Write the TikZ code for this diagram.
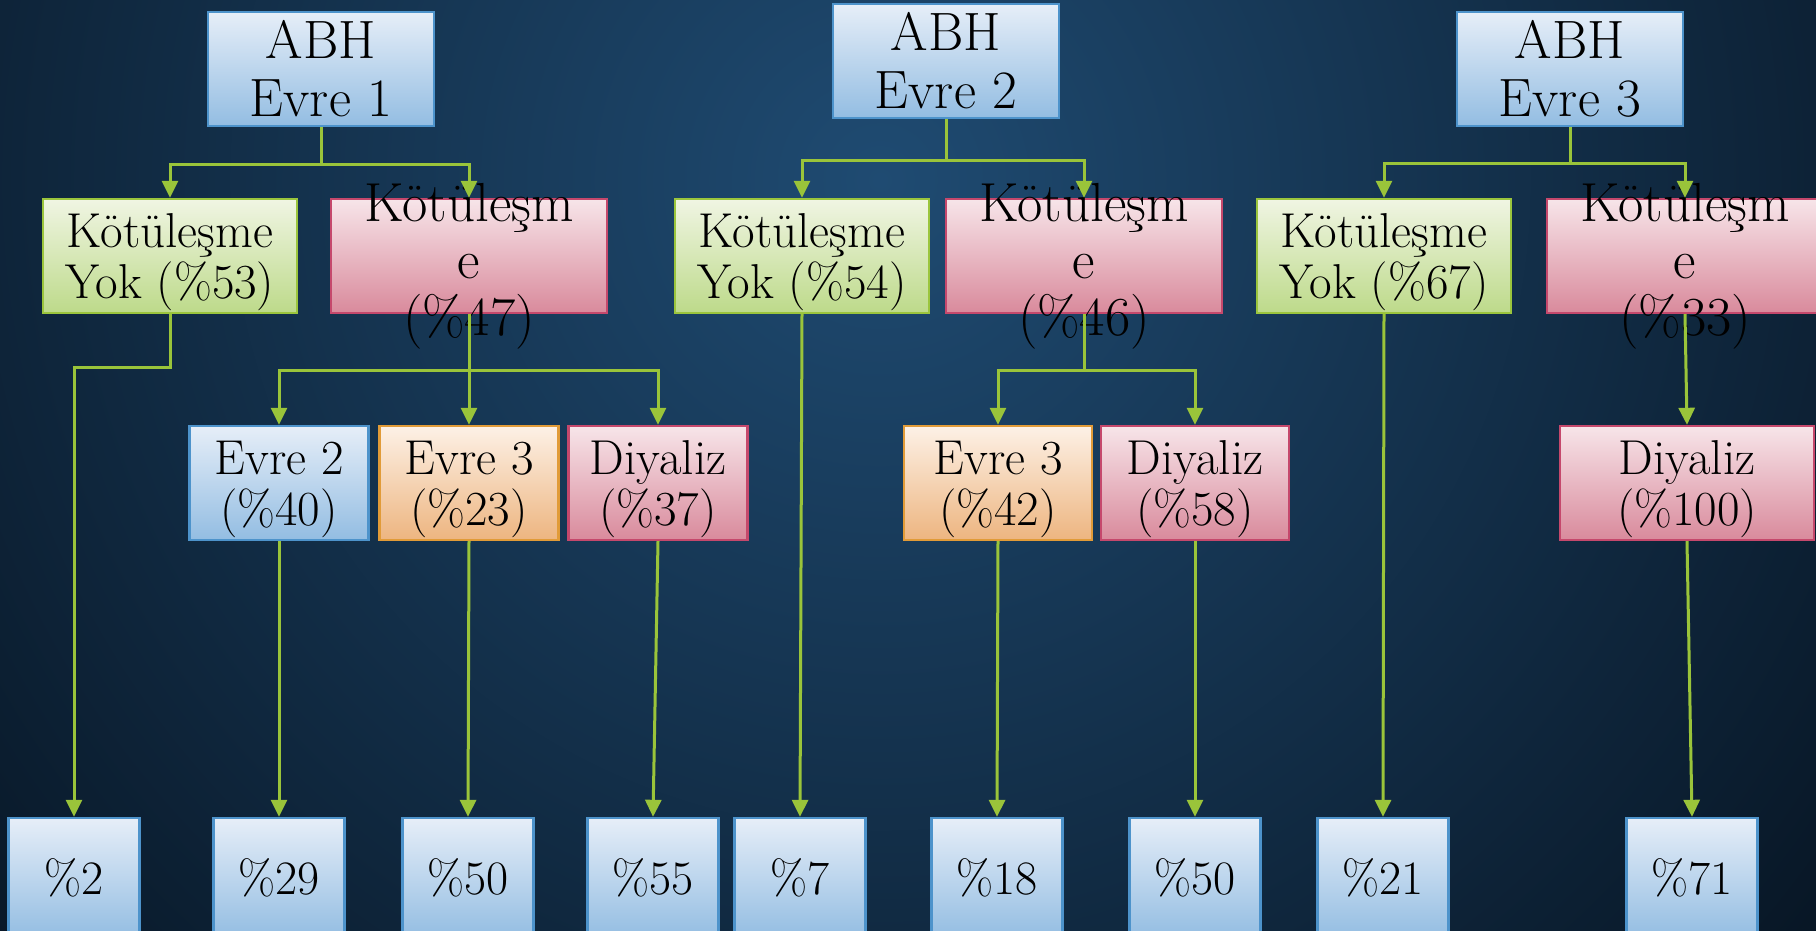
\documentclass[tikz,border=0pt]{standalone}
\usepackage{fontspec}
\usetikzlibrary{arrows.meta}

\definecolor{bgdark}{HTML}{06121F}
\definecolor{bglight}{HTML}{1F4B72}
\definecolor{blueline}{HTML}{4D93CB}
\definecolor{bluetop}{HTML}{E6EEF8}
\definecolor{bluebot}{HTML}{93BDE2}
\definecolor{greenline}{HTML}{9BC53D}
\definecolor{greentop}{HTML}{F0F5E3}
\definecolor{greenbot}{HTML}{BDDA8A}
\definecolor{pinkline}{HTML}{C5486C}
\definecolor{pinktop}{HTML}{F7E5E9}
\definecolor{pinkbot}{HTML}{D98A9C}
\definecolor{orangeline}{HTML}{E19B38}
\definecolor{orangetop}{HTML}{FDF1E6}
\definecolor{orangebot}{HTML}{EDB580}
\definecolor{linkgreen}{HTML}{9AC43A}

\begin{document}
\begin{tikzpicture}[x=0.5pt, y=-0.5pt,
    box/.style={draw, line width=1.2pt, inner sep=0pt, align=center, minimum height=57pt},
    bluebox/.style={box, draw=blueline, top color=bluetop, bottom color=bluebot},
    greenbox/.style={box, draw=greenline, top color=greentop, bottom color=greenbot},
    pinkbox/.style={box, draw=pinkline, top color=pinktop, bottom color=pinkbot},
    orangebox/.style={box, draw=orangeline, top color=orangetop, bottom color=orangebot},
    toptxt/.style={font=\fontsize{27}{29}\selectfont},
    midtxt/.style={font=\fontsize{24.5}{25.5}\selectfont, text depth=0pt},
    lowtxt/.style={font=\fontsize{24}{26}\selectfont},
    spill/.style={align=center, inner sep=0pt, font=\fontsize{27.5}{28.5}\selectfont},
    link/.style={draw=linkgreen, line width=1.5pt, -{Triangle[length=8.5pt,width=8pt]}}]
    \useasboundingbox (0,0) rectangle (1816,931);

    % background
    \fill[bgdark] (0,0) rectangle (1816,931);
    \begin{scope}
        \clip (0,0) rectangle (1816,931);
        \shade[inner color=bglight, outer color=bgdark] (880,180) circle (1300);
    \end{scope}

    % ABH stages
    \node[bluebox, toptxt, minimum width=113pt] (abh1) at (321,69) {ABH\\Evre 1};
    \node[bluebox, toptxt, minimum width=113pt] (abh2) at (946,61) {ABH\\Evre 2};
    \node[bluebox, toptxt, minimum width=113pt] (abh3) at (1570,69) {ABH\\Evre 3};

    % no worsening / worsening
    \node[greenbox, midtxt, minimum width=127pt] (yok1) at (170,256) {Kötüleşme\\Yok (\%53)};
    \node[pinkbox, minimum width=138pt] (kot1) at (469,256) {};
    \node[spill, yshift=-5pt] (kot1t) at (kot1) {Kötüleşm\\e\\(\%47)};
    \node[greenbox, midtxt, minimum width=127pt] (yok2) at (802,256) {Kötüleşme\\Yok (\%54)};
    \node[pinkbox, minimum width=138pt] (kot2) at (1084,256) {};
    \node[spill, yshift=-5pt] (kot2t) at (kot2) {Kötüleşm\\e\\(\%46)};
    \node[greenbox, midtxt, minimum width=127pt] (yok3) at (1384,256) {Kötüleşme\\Yok (\%67)};
    \node[pinkbox, minimum width=138pt] (kot3) at (1685,256) {};
    \node[spill, yshift=-5pt] (kot3t) at (kot3) {Kötüleşm\\e\\(\%33)};

    % where the worsening goes
    \node[bluebox, midtxt, minimum width=89.5pt] (e2a) at (279,483) {Evre 2\\(\%40)};
    \node[orangebox, midtxt, minimum width=89.5pt] (e3a) at (469,483) {Evre 3\\(\%23)};
    \node[pinkbox, midtxt, minimum width=89.5pt] (dya) at (658,483) {Diyaliz\\(\%37)};
    \node[orangebox, midtxt, minimum width=94pt] (e3b) at (998,483) {Evre 3\\(\%42)};
    \node[pinkbox, midtxt, minimum width=94pt] (dyb) at (1195,483) {Diyaliz\\(\%58)};
    \node[pinkbox, midtxt, minimum width=127pt] (dyc) at (1687,483) {Diyaliz\\(\%100)};

    % bottom row
    \node[bluebox, lowtxt, minimum width=65.5pt, minimum height=60pt] (b1) at (74,878) {\%2};
    \node[bluebox, lowtxt, minimum width=65.5pt, minimum height=60pt] (b2) at (279,878) {\%29};
    \node[bluebox, lowtxt, minimum width=65.5pt, minimum height=60pt] (b3) at (468,878) {\%50};
    \node[bluebox, lowtxt, minimum width=65.5pt, minimum height=60pt] (b4) at (653,878) {\%55};
    \node[bluebox, lowtxt, minimum width=65.5pt, minimum height=60pt] (b5) at (800,878) {\%7};
    \node[bluebox, lowtxt, minimum width=65.5pt, minimum height=60pt] (b6) at (997,878) {\%18};
    \node[bluebox, lowtxt, minimum width=65.5pt, minimum height=60pt] (b7) at (1195,878) {\%50};
    \node[bluebox, lowtxt, minimum width=65.5pt, minimum height=60pt] (b8) at (1383,878) {\%21};
    \node[bluebox, lowtxt, minimum width=65.5pt, minimum height=60pt] (b9) at (1692,878) {\%71};

    % links from the stages
    \draw[link] (abh1.south) -- ++(0,37) -| (yok1.north);
    \draw[link] (abh1.south) -- ++(0,37) -| (kot1.north);
    \draw[link] (abh2.south) -- ++(0,41) -| (yok2.north);
    \draw[link] (abh2.south) -- ++(0,41) -| (kot2.north);
    \draw[link] (abh3.south) -- ++(0,36) -| (yok3.north);
    \draw[link] (abh3.south) -- ++(0,36) -| (kot3.north);

    % links from the second row
    \draw[link] (yok1.south) -- ++(0,53) -| (b1.north);
    \draw[link] (kot1.south) -- ++(0,56) -| (e2a.north);
    \draw[link] (kot1.south) -- (e3a.north);
    \draw[link] (kot1.south) -- ++(0,56) -| (dya.north);
    \draw[link] (yok2.south) -- (b5.north);
    \draw[link] (kot2.south) -- ++(0,56) -| (e3b.north);
    \draw[link] (kot2.south) -- ++(0,56) -| (dyb.north);
    \draw[link] (yok3.south) -- (b8.north);
    \draw[link] (kot3.south) -- (dyc.north);

    % links to the bottom row
    \draw[link] (e2a.south) -- (b2.north);
    \draw[link] (e3a.south) -- (b3.north);
    \draw[link] (dya.south) -- (b4.north);
    \draw[link] (e3b.south) -- (b6.north);
    \draw[link] (dyb.south) -- (b7.north);
    \draw[link] (dyc.south) -- (b9.north);
\end{tikzpicture}
\end{document}
